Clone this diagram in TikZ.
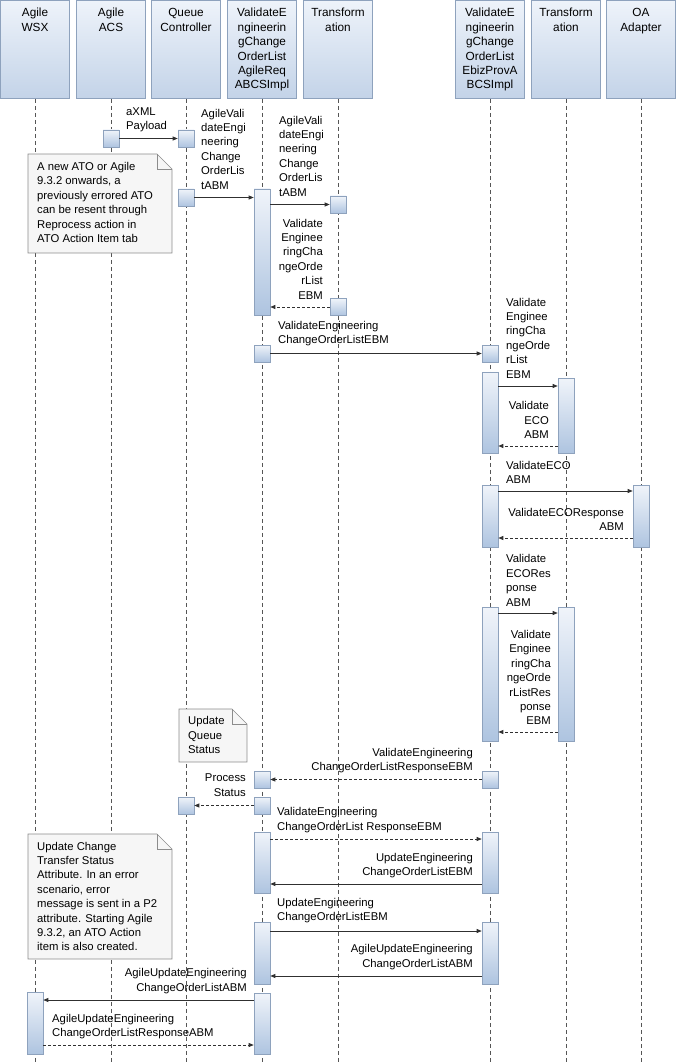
\documentclass[tikz,border=0pt]{standalone}
\usepackage{fontspec}
\setmainfont{Liberation Sans}
\usetikzlibrary{arrows.meta}
\definecolor{headtop}{HTML}{EEF3FA}
\definecolor{headbot}{HTML}{C3D3E8}
\definecolor{boxline}{HTML}{8EA2BD}
\definecolor{bartop}{HTML}{F0F4FA}
\definecolor{barbot}{HTML}{AEC4E0}
\definecolor{msgline}{HTML}{303030}
\definecolor{lifegray}{HTML}{555555}
\definecolor{notefill}{HTML}{F6F6F6}
\definecolor{noteline}{HTML}{8C8C8C}

\begin{document}
\begin{tikzpicture}[x=1pt, y=-1pt,
		head/.style={draw=boxline, line width=0.6pt, top color=headtop, bottom color=headbot,
			minimum width=69pt, minimum height=98pt, inner sep=0pt},
		headlabel/.style={anchor=north, yshift=-8pt, align=center, inner sep=0pt,
			font=\fontsize{11.8}{14.4}\selectfont},
		lifeline/.style={draw=lifegray, line width=0.6pt, dash pattern=on 4pt off 3pt},
		actbar/.style={draw=boxline, line width=0.6pt, top color=bartop, bottom color=barbot,
			minimum width=16pt, inner sep=0pt},
		smallbox/.style={actbar, minimum height=17pt},
		msg/.style={draw=msgline, line width=0.7pt, -{Triangle[length=5pt,width=4pt]}},
		reply/.style={msg, dash pattern=on 3pt off 2pt},
		lbl/.style={inner sep=0pt, font=\fontsize{11.3}{14.4}\selectfont},
		lbll/.style={lbl, align=left, anchor=west},
		lblr/.style={lbl, align=right, anchor=east},
		notebg/.style={draw=noteline, fill=notefill, line width=0.6pt}]
	\useasboundingbox (0,0) rectangle (677,1064);
	\coordinate (bottom) at (0,1064);

	% heads and lifelines
	\foreach \x/\nm/\txt in {35/wsx/{Agile\\WSX}, 111/acs/{Agile\\ACS}, 186/qc/{Queue\\Controller},
			262/req/{ValidateE\\ngineerin\\gChange\\OrderList\\AgileReq\\ABCSImpl},
			338/tra/{Transform\\ation},
			490/prov/{ValidateE\\ngineerin\\gChange\\OrderList\\EbizProvA\\BCSImpl},
			566/trb/{Transform\\ation}, 641/oa/{OA\\Adapter}}
	{
		\node[head, label={[headlabel]north:\txt}] (\nm) at (\x,49.5) {};
		\draw[lifeline] (\nm.south) -- (\nm.south |- bottom);
	}

	% small boxes
	\node[smallbox] (s1) at (111,138.5) {};
	\node[smallbox] (s2) at (186,138.5) {};
	\node[smallbox] (s3) at (186,197.5) {};
	\node[smallbox] (s4) at (338,204.5) {};
	\node[smallbox] (s5) at (338,307) {};
	\node[smallbox] (s6) at (262,353.5) {};
	\node[smallbox] (s7) at (490,353.5) {};
	\node[smallbox] (s8) at (490,779.5) {};
	\node[smallbox] (s9) at (262,779.5) {};
	\node[smallbox] (s10) at (262,805.5) {};
	\node[smallbox] (s11) at (186,805.5) {};

	% activation bars
	\node[actbar, minimum height=126pt] (b1) at (262,252) {};
	\node[actbar, minimum height=81pt] (b2) at (490,412.5) {};
	\node[actbar, minimum height=75pt] (b3) at (566,415.5) {};
	\node[actbar, minimum height=62pt] (b4) at (490,516) {};
	\node[actbar, minimum height=62pt] (b5) at (641,516) {};
	\node[actbar, minimum height=134pt] (b6) at (490,674) {};
	\node[actbar, minimum height=134pt] (b7) at (566,674) {};
	\node[actbar, minimum height=61pt] (b8) at (262,862.5) {};
	\node[actbar, minimum height=61pt] (b9) at (490,862.5) {};
	\node[actbar, minimum height=62pt] (b10) at (262,953) {};
	\node[actbar, minimum height=62pt] (b11) at (490,953) {};
	\node[actbar, minimum height=61pt] (b12) at (262,1023.5) {};
	\node[actbar, minimum height=62pt] (b13) at (35,1023) {};

	% notes
	\filldraw[notebg] (28,154) -- (157,154) -- (172,169) -- (172,253) -- (28,253) -- cycle;
	\draw[notebg, fill=none] (157,154) -- (157,169) -- (172,169);
	\node[lbll] (n1) at (37,202.5) {A new ATO or Agile\\9.3.2 onwards, a\\previously errored ATO\\can be resent through\\Reprocess action in\\ATO Action Item tab};
	\filldraw[notebg] (179,709) -- (232,709) -- (247,724) -- (247,762) -- (179,762) -- cycle;
	\draw[notebg, fill=none] (232,709) -- (232,724) -- (247,724);
	\node[lbll] (n3) at (188,735) {Update\\Queue\\Status};
	\filldraw[notebg] (28,834) -- (157,834) -- (172,849) -- (172,959) -- (28,959) -- cycle;
	\draw[notebg, fill=none] (157,834) -- (157,849) -- (172,849);
	\node[lbll] (n2) at (37,896.5) {Update Change\\Transfer Status\\Attribute. In an error\\scenario, error\\message is sent in a P2\\attribute. Starting Agile\\9.3.2, an ATO Action\\item is also created.};

	% message heights
	\coordinate (m6) at (0,386);
	\coordinate (m7) at (0,446);
	\coordinate (m8) at (0,491);
	\coordinate (m9) at (0,538);
	\coordinate (m10) at (0,613);
	\coordinate (m11) at (0,732);
	\coordinate (m14) at (0,839);
	\coordinate (m15) at (0,884);
	\coordinate (m16) at (0,931);
	\coordinate (m17) at (0,976);
	\coordinate (m18) at (0,1000);
	\coordinate (m19) at (0,1045);

	% messages
	\draw[msg] (s1.east) -- (s2.west);
	\draw[msg] (s3.east) -- (b1.west |- s3);
	\draw[msg] (b1.east |- s4) -- (s4.west);
	\draw[reply] (s5.west) -- (b1.east |- s5);
	\draw[msg] (s6.east) -- (s7.west);
	\draw[msg] (b2.east |- m6) -- (b3.west |- m6);
	\draw[reply] (b3.west |- m7) -- (b2.east |- m7);
	\draw[msg] (b4.east |- m8) -- (b5.west |- m8);
	\draw[reply] (b5.west |- m9) -- (b4.east |- m9);
	\draw[msg] (b6.east |- m10) -- (b7.west |- m10);
	\draw[reply] (b7.west |- m11) -- (b6.east |- m11);
	\draw[reply] (s8.west) -- (s9.east);
	\draw[reply] (s10.west) -- (s11.east);
	\draw[reply] (b8.east |- m14) -- (b9.west |- m14);
	\draw[msg] (b9.west |- m15) -- (b8.east |- m15);
	\draw[msg] (b10.east |- m16) -- (b11.west |- m16);
	\draw[msg] (b11.west |- m17) -- (b10.east |- m17);
	\draw[msg] (b12.west |- m18) -- (b13.east |- m18);
	\draw[reply] (b13.east |- m19) -- (b12.west |- m19);

	% message labels
	\node[lbll] (l1) at (126,119.5) {aXML\\Payload};
	\node[lbll] (l2) at (201,149) {AgileVali\\dateEngi\\neering\\Change\\OrderLis\\tABM};
	\node[lbll] (l3) at (279,156) {AgileVali\\dateEngi\\neering\\Change\\OrderLis\\tABM};
	\node[lblr] (l4) at (323,259) {Validate\\Enginee\\ringCha\\ngeOrde\\rList\\EBM};
	\node[lbll] (l5) at (278,333.5) {ValidateEngineering\\ChangeOrderListEBM};
	\node[lbll] (l6) at (506,338) {Validate\\Enginee\\ringCha\\ngeOrde\\rList\\EBM};
	\node[lblr] (l7) at (549,420) {Validate\\ECO\\ABM};
	\node[lbll] (l8) at (506,472.5) {ValidateECO\\ABM};
	\node[lblr] (l9) at (624,519.5) {ValidateECOResponse\\ABM};
	\node[lbll] (l10) at (506,580.5) {Validate\\ECORes\\ponse\\ABM};
	\node[lblr] (l11) at (551,677.5) {Validate\\Enginee\\ringCha\\ngeOrde\\rListRes\\ponse\\EBM};
	\node[lblr] (l12) at (473,760.5) {ValidateEngineering\\ChangeOrderListResponseEBM};
	\node[lblr] (l13) at (246,785) {Process\\Status};
	\node[lbll] (l14) at (277,820) {ValidateEngineering\\ChangeOrderList ResponseEBM};
	\node[lblr] (l15) at (473,865.5) {UpdateEngineering\\ChangeOrderListEBM};
	\node[lbll] (l16) at (277,910.5) {UpdateEngineering\\ChangeOrderListEBM};
	\node[lblr] (l17) at (473,957) {AgileUpdateEngineering\\ChangeOrderListABM};
	\node[lblr] (l18) at (247,981) {AgileUpdateEngineering\\ChangeOrderListABM};
	\node[lbll] (l19) at (52,1026.5) {AgileUpdateEngineering\\ChangeOrderListResponseABM};
\end{tikzpicture}
\end{document}
